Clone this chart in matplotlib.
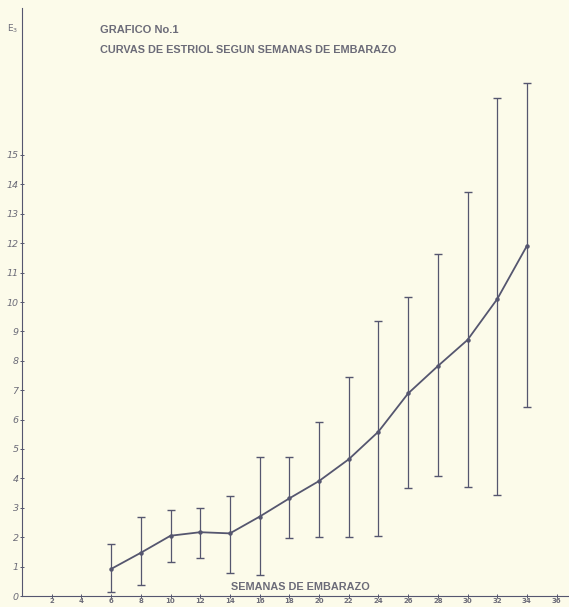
import numpy as np
import matplotlib.pyplot as plt

# ---------------      Datos       --------------------------------------------

semanas = [6, 8, 10, 12, 14, 16, 18, 20, 22, 24, 26, 28, 30, 32, 34]
media = [0.92, 1.47, 2.05, 2.17, 2.13, 2.70, 3.32, 3.91, 4.65, 5.59, 6.89, 7.82, 8.71, 10.10, 11.91]
minimo = [0.15, 0.37, 1.17, 1.28, 0.79, 0.71, 1.98, 2.02, 2.00, 2.04, 3.68, 4.08, 3.72, 3.44, 6.44]
maximo = [1.77, 2.68, 2.93, 2.98, 3.41, 4.74, 4.72, 5.93, 7.46, 9.35, 10.18, 11.62, 13.75, 16.95, 17.44]

xticks = list(range(2, 37, 2))
yticks = list(range(0, 16))

# ---------------      Grafica       -------------------------

fondo = '#fcfbea'
tinta = '#55566f'
gris = '#6b6b78'

fig = plt.figure(figsize=(5.69, 6.07), dpi=100, facecolor=fondo)
ax = fig.add_axes([22 / 569, 11 / 607, 546.5 / 569, 588 / 607], facecolor=fondo)

media = np.array(media)
err_bajo = media - np.array(minimo)
err_alto = np.array(maximo) - media

ax.errorbar(semanas, media, yerr=[err_bajo, err_alto], fmt='none',
            ecolor=tinta, elinewidth=0.9, capsize=3, capthick=1.0)
ax.plot(semanas, media, color=tinta, linewidth=1.3, marker='o', markersize=2.2)

ax.set_xlim(0, 36.8)
ax.set_ylim(0, 20)
ax.spines['top'].set_visible(False)
ax.spines['right'].set_visible(False)
ax.spines['left'].set_color(tinta)
ax.spines['bottom'].set_color(tinta)

ax.set_xticks(xticks)
ax.set_xticklabels([str(t) for t in xticks], fontsize=5, color=gris, fontweight='bold')
ax.set_yticks(yticks)
ax.set_yticklabels([str(t) for t in yticks], fontsize=6.8, color=gris, fontstyle='italic')
ax.tick_params(axis='x', direction='inout', length=3, width=0.7, color=tinta, pad=0)
ax.tick_params(axis='y', direction='inout', length=3, width=0.7, color=tinta, pad=1)

# Etiqueta del eje y (E3) arriba del eje
ax.text(-0.25, 19.3, 'E$_3$', ha='right', va='center', fontsize=6.5, color=gris)

# Titulos
fig.text(100 / 569, 1 - 30 / 607, 'GRAFICO No.1', fontsize=8, fontweight='bold',
         color=gris, family='Liberation Sans', va='center')
fig.text(100 / 569, 1 - 50 / 607, 'CURVAS DE ESTRIOL SEGUN SEMANAS DE EMBARAZO', fontsize=7.8,
         fontweight='bold', color=gris, family='Liberation Sans', va='center')
fig.text(300 / 569, 1 - 587 / 607, 'SEMANAS DE EMBARAZO', fontsize=7.8, fontweight='bold',
         color=gris, family='Liberation Sans', ha='center', va='center')

plt.savefig('out.png', dpi=100, facecolor=fondo)
